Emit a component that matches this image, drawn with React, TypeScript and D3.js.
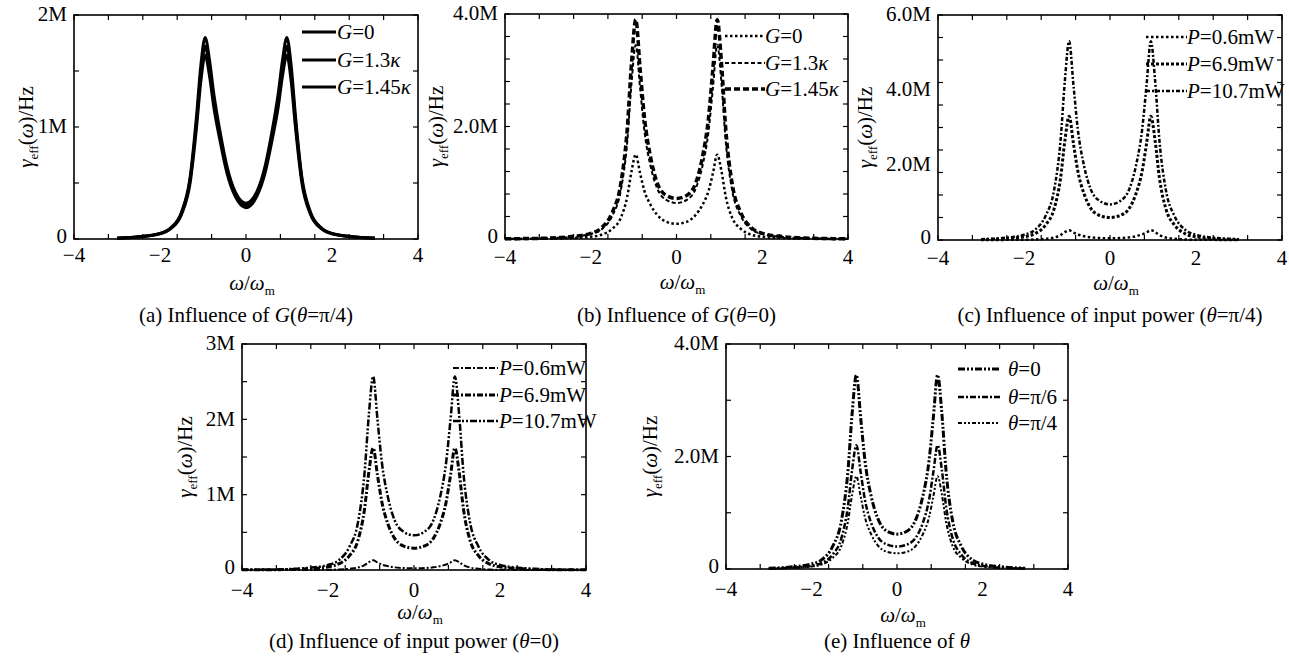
import React from 'react';
import * as d3 from 'd3';

// ---------- data (values in units of 1M Hz) ----------
const omega = [-4, -3.5, -3, -2.5, -2, -1.75, -1.5, -1.3, -1.15, -1.05, -0.95, -0.85, -0.75, -0.6, -0.45, -0.25, 0, 0.25, 0.45, 0.6, 0.75, 0.85, 0.95, 1.05, 1.15, 1.3, 1.5, 1.75, 2, 2.5, 3, 3.5, 4];

const aG0 = [null, null, 0.007, 0.02, 0.05, 0.1, 0.24, 0.55, 1.1, 1.55, 1.8, 1.6, 1.3, 0.95, 0.66, 0.42, 0.32, 0.42, 0.66, 0.95, 1.3, 1.6, 1.8, 1.55, 1.1, 0.55, 0.24, 0.1, 0.05, 0.02, 0.007, null, null];
const aG13 = [null, null, 0.007, 0.019, 0.048, 0.096, 0.23, 0.53, 1.05, 1.48, 1.72, 1.53, 1.24, 0.91, 0.63, 0.4, 0.3, 0.4, 0.63, 0.91, 1.24, 1.53, 1.72, 1.48, 1.05, 0.53, 0.23, 0.096, 0.048, 0.019, 0.007, null, null];
const aG145 = [null, null, 0.006, 0.018, 0.046, 0.092, 0.22, 0.5, 1.0, 1.41, 1.64, 1.46, 1.18, 0.87, 0.6, 0.38, 0.28, 0.38, 0.6, 0.87, 1.18, 1.46, 1.64, 1.41, 1.0, 0.5, 0.22, 0.092, 0.046, 0.018, 0.006, null, null];

const bG0 = [0.001, 0.002, 0.006, 0.015, 0.04, 0.075, 0.18, 0.375, 0.75, 1.2, 1.5, 1.17, 0.86, 0.6, 0.43, 0.31, 0.27, 0.31, 0.43, 0.6, 0.86, 1.17, 1.5, 1.2, 0.75, 0.375, 0.18, 0.075, 0.04, 0.015, 0.006, 0.002, 0.001];
const bG13 = [0.003, 0.006, 0.014, 0.035, 0.09, 0.17, 0.41, 0.86, 1.72, 2.76, 3.45, 2.69, 1.93, 1.28, 0.9, 0.7, 0.64, 0.7, 0.9, 1.28, 1.93, 2.69, 3.45, 2.76, 1.72, 0.86, 0.41, 0.17, 0.09, 0.035, 0.014, 0.006, 0.003];
const bG145 = [0.004, 0.008, 0.016, 0.04, 0.1, 0.2, 0.47, 0.98, 1.95, 3.12, 3.9, 3.04, 2.18, 1.44, 1.0, 0.78, 0.72, 0.78, 1.0, 1.44, 2.18, 3.04, 3.9, 3.12, 1.95, 0.98, 0.47, 0.2, 0.1, 0.04, 0.016, 0.008, 0.004];

const cP06 = [null, null, 0.001, 0.003, 0.007, 0.013, 0.031, 0.065, 0.13, 0.21, 0.26, 0.2, 0.15, 0.1, 0.07, 0.052, 0.045, 0.052, 0.07, 0.1, 0.15, 0.2, 0.26, 0.21, 0.13, 0.065, 0.031, 0.013, 0.007, 0.003, 0.001, null, null];
const cP69 = [null, null, 0.013, 0.033, 0.086, 0.165, 0.4, 0.83, 1.65, 2.64, 3.3, 2.57, 1.85, 1.22, 0.85, 0.66, 0.6, 0.66, 0.85, 1.22, 1.85, 2.57, 3.3, 2.64, 1.65, 0.83, 0.4, 0.165, 0.086, 0.033, 0.013, null, null];
const cP107 = [null, null, 0.02, 0.053, 0.14, 0.27, 0.64, 1.33, 2.65, 4.24, 5.3, 4.13, 2.97, 1.96, 1.36, 1.05, 0.95, 1.05, 1.36, 1.96, 2.97, 4.13, 5.3, 4.24, 2.65, 1.33, 0.64, 0.27, 0.14, 0.053, 0.02, null, null];

const dP06 = [0, 0, 0.001, 0.0013, 0.0034, 0.0065, 0.016, 0.033, 0.065, 0.104, 0.13, 0.1, 0.073, 0.05, 0.035, 0.026, 0.022, 0.026, 0.035, 0.05, 0.073, 0.1, 0.13, 0.104, 0.065, 0.033, 0.016, 0.0065, 0.0034, 0.0013, 0.001, 0, 0];
const dP69 = [0.002, 0.003, 0.006, 0.016, 0.042, 0.081, 0.19, 0.4, 0.81, 1.3, 1.62, 1.26, 0.91, 0.6, 0.42, 0.32, 0.29, 0.32, 0.42, 0.6, 0.91, 1.26, 1.62, 1.3, 0.81, 0.4, 0.19, 0.081, 0.042, 0.016, 0.006, 0.003, 0.002];
const dP107 = [0.003, 0.005, 0.01, 0.026, 0.067, 0.13, 0.31, 0.64, 1.29, 2.06, 2.57, 2.0, 1.44, 0.95, 0.66, 0.51, 0.46, 0.51, 0.66, 0.95, 1.44, 2.0, 2.57, 2.06, 1.29, 0.64, 0.31, 0.13, 0.067, 0.026, 0.01, 0.005, 0.003];

const eT0 = [null, null, 0.014, 0.035, 0.09, 0.17, 0.41, 0.86, 1.72, 2.76, 3.45, 2.69, 1.93, 1.28, 0.9, 0.68, 0.62, 0.68, 0.9, 1.28, 1.93, 2.69, 3.45, 2.76, 1.72, 0.86, 0.41, 0.17, 0.09, 0.035, 0.014, null, null];
const eT6 = [null, null, 0.009, 0.022, 0.057, 0.11, 0.26, 0.55, 1.1, 1.76, 2.2, 1.72, 1.23, 0.81, 0.57, 0.44, 0.4, 0.44, 0.57, 0.81, 1.23, 1.72, 2.2, 1.76, 1.1, 0.55, 0.26, 0.11, 0.057, 0.022, 0.009, null, null];
const eT4 = [null, null, 0.007, 0.017, 0.043, 0.083, 0.2, 0.41, 0.83, 1.32, 1.65, 1.29, 0.92, 0.61, 0.42, 0.31, 0.28, 0.31, 0.42, 0.61, 0.92, 1.29, 1.65, 1.32, 0.83, 0.41, 0.2, 0.083, 0.043, 0.017, 0.007, null, null];

// tick values and labels
const xTickValues = [-4, -2, 0, 2, 4];
const xTickLabels = ['\u22124', '\u22122', '0', '2', '4'];
const yTicksA = [0, 1, 2];
const yLabelsA = ['0', '1M', '2M'];
const yTicksB = [0, 2, 4];
const yLabelsB = ['0', '2.0M', '4.0M'];
const yTicksC = [0, 2, 4, 6];
const yLabelsC = ['0', '2.0M', '4.0M', '6.0M'];
const yTicksD = [0, 1, 2, 3];
const yLabelsD = ['0', '1M', '2M', '3M'];
const yTicksE = [0, 2, 4];
const yLabelsE = ['0', '2.0M', '4.0M'];

const legendG = ['G=0', 'G=1.3\u03ba', 'G=1.45\u03ba'];
const legendP = ['P=0.6mW', 'P=6.9mW', 'P=10.7mW'];
const legendT = ['\u03b8=0', '\u03b8=\u03c0/6', '\u03b8=\u03c0/4'];

const captions = [
  '(a) Influence of G(\u03b8=\u03c0/4)',
  '(b) Influence of G(\u03b8=0)',
  '(c) Influence of input power (\u03b8=\u03c0/4)',
  '(d) Influence of input power (\u03b8=0)',
  '(e) Influence of \u03b8',
];

// ---------- styling / layout ----------
const FONT = '"Liberation Serif", "Times New Roman", Times, serif';
const FS = 21;

type Style = { dash: string; w: number };

const panels = [
  {
    x0: 74, x1: 418, y0: 15, y1: 239, ymax: 2, minor: 0.5,
    yTicks: yTicksA, yLabels: yLabelsA, xTickDy: 23, xTitleDy: 51, captionY: 322, yTitleX: 33,
    series: [aG0, aG13, aG145],
    styles: [{ dash: '', w: 3 }, { dash: '', w: 3 }, { dash: '', w: 3 }] as Style[],
    legend: legendG, lg: { lx0: 302, lx1: 336, tx: 337, rows: [32, 60, 87] },
    caption: captions[0],
  },
  {
    x0: 505, x1: 848, y0: 14, y1: 239, ymax: 4, minor: 0.4,
    yTicks: yTicksB, yLabels: yLabelsB, xTickDy: 25, xTitleDy: 50, captionY: 322, yTitleX: 443,
    series: [bG0, bG13, bG145],
    styles: [{ dash: '2.5,2.5', w: 2.5 }, { dash: '4,2.5', w: 2 }, { dash: '6,3', w: 3.5 }] as Style[],
    legend: legendG, lg: { lx0: 725, lx1: 765, tx: 765, rows: [36, 63, 89] },
    caption: captions[1],
  },
  {
    x0: 938, x1: 1282, y0: 15, y1: 240, ymax: 6, minor: 0.6,
    yTicks: yTicksC, yLabels: yLabelsC, xTickDy: 25, xTitleDy: 50, captionY: 322, yTitleX: 872,
    series: [cP06, cP69, cP107],
    styles: [{ dash: '2.5,2.5', w: 2.5 }, { dash: '3,2', w: 3 }, { dash: '4,2,2,2', w: 2.5 }] as Style[],
    legend: legendP, lg: { lx0: 1146, lx1: 1187, tx: 1187, rows: [37, 64, 91] },
    caption: captions[2],
  },
  {
    x0: 242, x1: 586, y0: 344, y1: 570, ymax: 3, minor: 0.5,
    yTicks: yTicksD, yLabels: yLabelsD, xTickDy: 27, xTitleDy: 49, captionY: 648, yTitleX: 192,
    series: [dP06, dP69, dP107],
    styles: [{ dash: '6,2,2,2', w: 2 }, { dash: '6,2,2,2', w: 3 }, { dash: '7,2,2,2,2,2', w: 2.5 }] as Style[],
    legend: legendP, lg: { lx0: 453, lx1: 498, tx: 499, rows: [368, 395, 421] },
    caption: captions[3],
  },
  {
    x0: 726, x1: 1068, y0: 344, y1: 569, ymax: 4, minor: 1,
    yTicks: yTicksE, yLabels: yLabelsE, xTickDy: 27, xTitleDy: 53, captionY: 648, yTitleX: 657,
    series: [eT0, eT6, eT4],
    styles: [{ dash: '7,2,2,2,2,2', w: 3 }, { dash: '6,2,2,2', w: 2.5 }, { dash: '4,2,2,2,2,2', w: 2 }] as Style[],
    legend: legendT, lg: { lx0: 958, lx1: 1000, tx: 1008, rows: [369, 397, 423] },
    caption: captions[4],
  },
];

const ITALIC = new Set(['G', 'P', '\u03b8', '\u03c9', '\u03ba', '\u03b3']);

function rich(s: string) {
  const runs: { t: string; it: boolean }[] = [];
  for (const ch of s) {
    const it = ITALIC.has(ch);
    const last = runs[runs.length - 1];
    if (last && last.it === it) last.t += ch;
    else runs.push({ t: ch, it });
  }
  return runs.map((r, i) => (
    <tspan key={i} fontStyle={r.it ? 'italic' : 'normal'}>{r.t}</tspan>
  ));
}

function Panel({ p }: { p: (typeof panels)[number] }) {
  const x = d3.scaleLinear().domain([-4, 4]).range([p.x0, p.x1]);
  const y = d3.scaleLinear().domain([0, p.ymax]).range([p.y1, p.y0]);
  const line = d3
    .line<number | null>()
    .defined((d) => d !== null)
    .x((_d, i) => x(omega[i]))
    .y((d) => y(d as number))
    .curve(d3.curveMonotoneX);

  const TL = 5;
  const minorY = d3.range(0, p.ymax + 1e-6, p.minor);
  const minorX = d3.range(-4, 4.0001, 0.8);
  const cx = (p.x0 + p.x1) / 2;
  const cy = (p.y0 + p.y1) / 2;

  return (
    <g>
      {p.series.map((s, i) => (
        <path
          key={i}
          d={line(s) || ''}
          fill="none"
          stroke="#000"
          strokeWidth={p.styles[i].w}
          strokeDasharray={p.styles[i].dash || undefined}
          strokeLinejoin="round"
        />
      ))}
      {/* frame */}
      <rect x={p.x0} y={p.y0} width={p.x1 - p.x0} height={p.y1 - p.y0} fill="none" stroke="#000" strokeWidth={1.6} />
      {/* y ticks */}
      {minorY.map((v, i) => (
        <g key={'y' + i}>
          <line x1={p.x0} x2={p.x0 + TL} y1={y(v)} y2={y(v)} stroke="#000" strokeWidth={1.2} />
          <line x1={p.x1} x2={p.x1 - TL} y1={y(v)} y2={y(v)} stroke="#000" strokeWidth={1.2} />
        </g>
      ))}
      {/* x ticks */}
      {minorX.map((v, i) => (
        <g key={'x' + i}>
          <line x1={x(v)} x2={x(v)} y1={p.y0} y2={p.y0 + TL} stroke="#000" strokeWidth={1.2} />
          <line x1={x(v)} x2={x(v)} y1={p.y1} y2={p.y1 - TL} stroke="#000" strokeWidth={1.2} />
        </g>
      ))}
      {/* y tick labels */}
      {p.yTicks.map((v, i) => (
        <text key={'yl' + i} x={p.x0 - 7} y={y(v)} dy={v === 0 ? '0.2em' : '0.3em'} textAnchor="end" fontSize={FS} fontFamily={FONT}>
          {p.yLabels[i]}
        </text>
      ))}
      {/* x tick labels */}
      {xTickValues.map((v, i) => (
        <text key={'xl' + i} x={x(v)} y={p.y1 + p.xTickDy} textAnchor="middle" fontSize={FS} fontFamily={FONT}>
          {xTickLabels[i]}
        </text>
      ))}
      {/* x title */}
      <text x={cx + 6} y={p.y1 + p.xTitleDy} textAnchor="middle" fontSize={FS} fontFamily={FONT}>
        <tspan fontStyle="italic">{'\u03c9'}</tspan>
        <tspan>/</tspan>
        <tspan fontStyle="italic">{'\u03c9'}</tspan>
        <tspan fontSize={13} dy={5}>m</tspan>
      </text>
      {/* y title */}
      <text
        transform={`translate(${p.yTitleX},${cy}) rotate(-90)`}
        textAnchor="middle"
        fontSize={FS}
        fontFamily={FONT}
      >
        <tspan fontStyle="italic">{'\u03b3'}</tspan>
        <tspan fontSize={13} dy={5}>eff</tspan>
        <tspan dy={-5}>(</tspan>
        <tspan fontStyle="italic">{'\u03c9'}</tspan>
        <tspan>)/Hz</tspan>
      </text>
      {/* legend */}
      {p.legend.map((lab, i) => (
        <g key={'lg' + i}>
          <line
            x1={p.lg.lx0}
            x2={p.lg.lx1}
            y1={p.lg.rows[i]}
            y2={p.lg.rows[i]}
            stroke="#000"
            strokeWidth={p.styles[i].w}
            strokeDasharray={p.styles[i].dash || undefined}
          />
          <text x={p.lg.tx} y={p.lg.rows[i]} dy="0.33em" fontSize={FS} fontFamily={FONT}>
            {rich(lab)}
          </text>
        </g>
      ))}
      {/* caption */}
      <text x={cx} y={p.captionY} textAnchor="middle" fontSize={FS} fontFamily={FONT}>
        {rich(p.caption)}
      </text>
    </g>
  );
}

export default function App() {
  return (
    <svg
      width={1289}
      height={661}
      viewBox="0 0 1289 661"
      style={{ position: 'absolute', left: 0, top: 0, background: '#fff', display: 'block' }}
    >
      <rect x={0} y={0} width={1289} height={661} fill="#fff" />
      {panels.map((p, i) => (
        <Panel key={i} p={p} />
      ))}
    </svg>
  );
}
